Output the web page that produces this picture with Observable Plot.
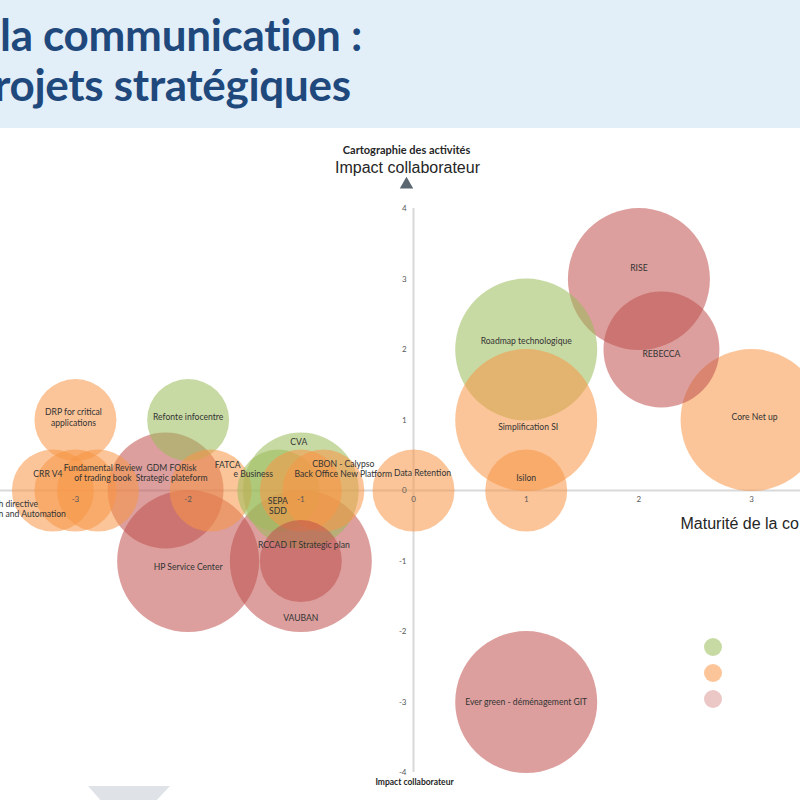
<!DOCTYPE html>
<html><head><meta charset="utf-8">
<script src="https://cdn.jsdelivr.net/npm/d3@7"></script>
<script src="https://cdn.jsdelivr.net/npm/@observablehq/plot@0.6"></script>
<style>
html,body{margin:0;padding:0;width:800px;height:800px;overflow:hidden;background:#fff;font-family:Lato,sans-serif;}
#banner{position:absolute;left:0;top:0;width:800px;height:128px;background:#e3eff8;overflow:hidden;}
.t{position:absolute;font-family:Lato;font-weight:700;color:#1f497d;font-size:44px;white-space:nowrap;line-height:1;letter-spacing:-0.3px;}
#chart{position:absolute;left:0;top:128px;width:800px;height:672px;overflow:hidden;}
#chart svg{overflow:hidden;}
.lg{position:absolute;width:18px;height:18px;border-radius:50%;}
#deco{position:absolute;left:88px;top:786px;width:82px;height:14px;background:#dfe3e8;clip-path:polygon(0 0,100% 0,84% 100%,15% 100%);}
</style></head>
<body>
<div id="banner">
  <div class="t" style="left:0px;top:12px;">la communication :</div>
  <div class="t" style="left:-6px;top:62px;">rojets stratégiques</div>
</div>
<div id="chart"></div>
<div class="lg" style="left:704px;top:638px;background:rgba(155,187,89,0.55)"></div>
<div class="lg" style="left:704px;top:664px;background:rgba(247,150,70,0.55)"></div>
<div class="lg" style="left:704px;top:690px;background:rgba(192,80,77,0.32)"></div>
<div id="deco"></div>
<script>
// ---- data ----
const projets = [
  "RISE", "REBECCA", "Roadmap technologique", "Simplification SI", "Isilon", "Core Net up",
  "Data Retention", "DRP for critical\napplications", "Refonte infocentre", "CRR V4",
  "h directive\nn and Automation", "Fundamental Review\nof trading book",
  "GDM FORisk\nStrategic plateform", "FATCA", "e Business", "CVA", "SEPA\nSDD",
  "CBON - Calypso\nBack Office New Platform", "RCCAD IT Strategic plan", "VAUBAN",
  "HP Service Center", "Ever green - déménagement GIT"
];
const maturite = [2, 2.2, 1, 1, 1, 3, 0, -3, -2, -3.2, -3, -2.8, -2.2, -1.8, -1.2, -1, -1, -0.8, -1, -1, -2, 1];
const impact   = [3, 2, 2, 1, 0, 1, 0, 1, 1, 0, 0, 0, 0, 0, 0, 0, 0, 0, -1, -1, -1, -3];
const poids    = [3, 2, 3, 3, 1, 3, 1, 1, 1, 1, 1, 1, 2, 1, 1, 2, 1, 1, 1, 3, 3, 3];
const statut   = ["rouge","rouge","vert","orange","orange","orange","orange","orange","vert","orange",
                  "orange","orange","rouge","orange","vert","vert","orange","orange","rouge","rouge","rouge","rouge"];
const statuts  = ["vert", "orange", "rouge"];
const xTicks = [-3, -2, -1, 0, 1, 2, 3];
const yTicks = [-4, -3, -2, -1, 0, 1, 2, 3, 4];

const data = projets.map((p, i) => ({projet: p, maturite: maturite[i], impact: impact[i], poids: poids[i], statut: statut[i]}));

// label placement nudges (pixels), by project index
const nudge = [[0,-11],[0,4],[0,-9],[2,7],[0,-13],[3,-3],[9,-18],[-2,-3],[0,-3],[-5,-17],
  [-77,18],[5,-18],[6,-18],[17,-26],[-25,-17],[-2,-49],[-23,15],[20,-22],[3,-16],[0,57],[0,6],[0,0]];

const labelFont = "Lato, sans-serif";
const labelMarks = data.map((d, i) => Plot.text([d], {
  x: "maturite", y: "impact", text: "projet",
  dx: nudge[i][0], dy: nudge[i][1],
  textAnchor: i === 10 ? "start" : "middle",
  fontSize: 8.6, fontFamily: labelFont, fill: "#333333", lineHeight: 1.25
}));

const chart = Plot.plot({
  width: 800, height: 672,
  marginTop: 0, marginRight: 0, marginBottom: 0, marginLeft: 0,
  x: {domain: [-3.665, 3.434], axis: null},
  y: {domain: [-4.397, 5.135], axis: null},
  r: {type: "sqrt", domain: [0, 3], range: [0, 71]},
  color: {domain: statuts, range: ["#9bbb59", "#f79646", "#c0504d"]},
  style: {background: "transparent"},
  marks: [
    Plot.ruleY([0], {stroke: "#d9d9d9", strokeWidth: 2}),
    Plot.ruleX([0], {y1: d3.min(yTicks), y2: d3.max(yTicks), stroke: "#d9d9d9", strokeWidth: 2}),
    Plot.dot(data, {x: "maturite", y: "impact", r: "poids", fill: "statut", fillOpacity: 0.55, stroke: "none"}),
    ...labelMarks,
    Plot.text(xTicks, {x: d => d, y: 0, text: d => String(d), dy: 9, fontSize: 8, fill: "#595959", fontFamily: labelFont}),
    Plot.text(yTicks, {x: 0, y: d => d, text: d => String(d), dx: -7, textAnchor: "end", fontSize: 8, fill: "#595959", fontFamily: labelFont}),
    Plot.text(["Cartographie des activités"], {frameAnchor: "top-left", dx: 406, dy: 22, text: d => d, fontSize: 11, fontWeight: 700, fontFamily: labelFont, fill: "#262626", textAnchor: "middle", lineAnchor: "middle"}),
    Plot.text(["Impact collaborateur"], {frameAnchor: "top-left", dx: 407, dy: 39, text: d => d, fontSize: 16, fontFamily: "Liberation Sans, Arial, sans-serif", fill: "#262626", textAnchor: "middle", lineAnchor: "middle"}),
    Plot.dot([0], {frameAnchor: "top-left", dx: 406, dy: 56, symbol: "triangle", r: 5, fill: "#5a6670", stroke: "none"}),
    Plot.text(["Impact collaborateur"], {frameAnchor: "top-left", dx: 414, dy: 654, text: d => d, fontSize: 8.5, fontWeight: 700, fontFamily: labelFont, fill: "#262626", textAnchor: "middle", lineAnchor: "middle"}),
    Plot.text(["Maturité de la co"], {frameAnchor: "top-left", dx: 680, dy: 395, text: d => d, fontSize: 16, fontFamily: "Liberation Sans, Arial, sans-serif", fill: "#262626", textAnchor: "start", lineAnchor: "middle"})
  ]
});
document.getElementById("chart").appendChild(chart);
</script>
</body></html>
